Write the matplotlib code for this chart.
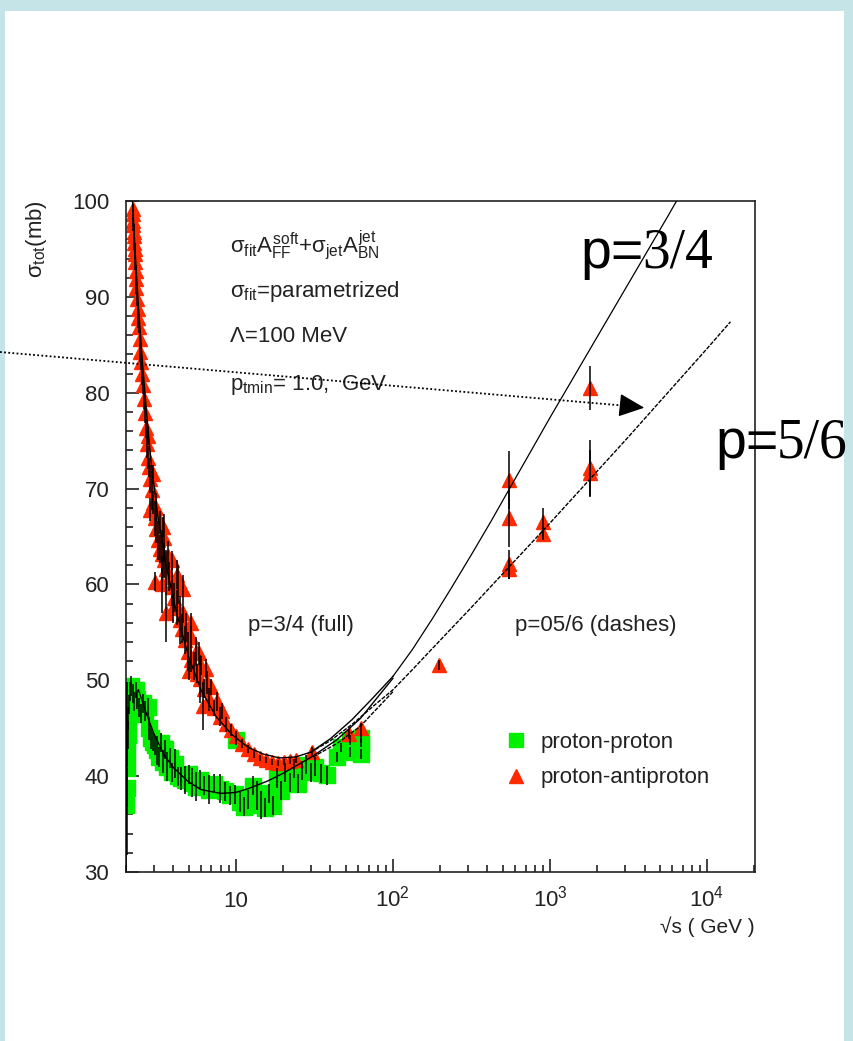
import matplotlib
matplotlib.use("Agg")
import matplotlib.pyplot as plt
from matplotlib.patches import Rectangle, FancyArrowPatch
from matplotlib.lines import Line2D
from matplotlib.ticker import FixedLocator, MultipleLocator, LogLocator, NullFormatter

plt.rcParams['font.family'] = ['Liberation Sans', 'DejaVu Sans']
plt.rcParams['mathtext.fontset'] = 'custom'
plt.rcParams['mathtext.rm'] = 'Liberation Sans'
plt.rcParams['mathtext.it'] = 'Liberation Sans'
plt.rcParams['mathtext.bf'] = 'Liberation Sans:bold'

# proton-antiproton data (sqrt(s) in GeV, sigma_tot in mb, error)
pbar_x = [2.20, 2.21, 2.22, 2.23, 2.24, 2.25, 2.26, 2.27, 2.28, 2.29, 2.30, 2.31,
          2.33, 2.35, 2.37, 2.39, 2.41, 2.44, 2.47, 2.50, 2.53, 2.56, 2.60, 2.63,
          2.67, 2.71, 2.75, 2.80, 2.86, 2.92, 2.98, 3.05, 3.12, 3.20, 3.28, 3.38,
          3.50, 3.62, 3.75, 3.90, 4.05, 4.20, 4.40, 4.55, 4.75, 4.95, 5.15, 5.40,
          5.65, 5.90, 6.30, 6.80, 7.30, 7.90, 8.60, 9.30, 10.0, 10.9, 11.9, 13.0,
          14.3, 15.6, 17.0, 18.5, 20.2, 22.0, 24.0,
          2.95, 3.10, 3.30, 3.50, 3.40, 3.70, 3.90, 4.00, 4.30, 4.60, 4.80, 5.20,
          5.00, 5.60, 6.00, 6.60, 7.00, 7.60, 8.20, 4.20, 3.60, 3.45, 2.75, 2.85, 6.20,
          3.05, 4.60, 5.20, 5.80, 6.50,
          30.4, 52.6, 62.7, 196, 546, 546, 546, 546, 900, 900, 1800, 1800, 1800]
pbar_y = [99.2, 98.6, 97.9, 97.5, 96.8, 96.3, 95.6, 95.0, 94.5, 93.6, 92.7, 91.9,
          90.9, 89.8, 88.7, 87.8, 86.9, 85.6, 84.2, 83.2, 82.0, 80.8, 79.3, 77.9,
          76.3, 74.7, 73.2, 72.2, 71.0, 69.8, 68.5, 66.9, 65.8, 64.6, 63.7, 63.2,
          62.5, 61.6, 60.8, 59.7, 58.6, 57.6, 56.3, 55.4, 54.2, 53.0, 52.1, 51.5,
          50.7, 50.1, 49.1, 48.0, 47.1, 46.2, 45.4, 44.8, 44.2, 43.4, 42.8, 42.3,
          41.9, 41.7, 41.5, 41.4, 41.5, 41.6, 41.7,
          71.5, 68.0, 66.5, 64.8, 60.0, 63.0, 62.5, 57.5, 60.0, 57.0, 55.5, 54.5,
          51.0, 53.0, 51.5, 49.8, 49.3, 47.8, 46.8, 61.0, 57.0, 66.0, 75.5, 67.8, 47.3,
          60.3, 59.5, 56.0, 52.8, 51.2,
          42.5, 44.4, 45.0, 51.6, 70.9, 66.9, 62.1, 61.6, 66.5, 65.3, 80.5, 72.1, 71.6]
pbar_err = [0.5, 0.6, 0.5, 0.6, 0.8, 0.5, 0.7, 0.6, 0.5, 0.8, 0.6, 0.7,
            0.6, 0.8, 0.6, 1.0, 0.7, 0.8, 1.0, 0.8, 1.2, 0.9, 1.0, 1.1,
            1.0, 1.5, 1.2, 1.0, 1.5, 2.0, 1.2, 1.8, 1.5, 2.0, 1.5, 2.5,
            1.8, 2.0, 1.5, 2.0, 1.5, 1.8, 2.5, 1.5, 1.5, 2.0, 1.2, 1.5,
            1.0, 2.5, 1.0, 1.2, 0.8, 1.0, 0.8, 0.6, 0.5, 0.5, 0.4, 0.4,
            0.3, 0.3, 0.3, 0.3, 0.3, 0.3, 0.3,
            1.0, 1.5, 1.2, 2.5, 3.0, 1.5, 1.0, 1.5, 2.0, 1.0, 1.5, 1.2,
            1.0, 1.5, 1.0, 1.2, 0.8, 1.0, 0.8, 1.5, 3.0, 1.0, 1.0, 1.2, 2.5,
            1.0, 1.5, 1.0, 1.2, 1.0,
            0.5, 0.5, 0.5, 0.5, 3.0, 3.0, 1.5, 1.0, 1.5, 0.7, 2.3, 3.0, 2.4]

# proton-proton data
pp_x = [2.01, 2.02, 2.03, 2.04, 2.05, 2.07, 2.09, 2.12, 2.16, 2.20, 2.25, 2.30,
        2.36, 2.42, 2.50, 2.58, 2.66, 2.75, 2.82, 2.90, 2.98, 3.05, 3.15, 3.25,
        3.35, 3.45, 3.55, 3.65, 3.80, 3.95, 4.10, 4.30, 4.50, 4.75, 5.00, 5.30,
        5.60, 5.90, 6.30, 6.80, 7.30, 7.90, 8.50, 9.20, 9.90, 10.6, 11.3, 12.0,
        12.8, 13.6, 14.4, 15.3, 16.2, 17.2, 18.3, 19.5, 20.7, 22.0, 23.5, 25.0,
        26.5, 28.0, 30.0, 32.0, 35.0, 38.0, 44.0, 47.0, 53.0, 53.0, 62.5, 62.5,
        62.5, 10.0]
pp_y = [37.0, 38.8, 40.8, 42.6, 44.3, 46.0, 47.5, 48.8, 49.4, 48.6, 47.8, 49.0,
        48.0, 47.2, 46.5, 47.6, 46.8, 47.2, 45.0, 44.0, 43.6, 43.2, 42.7, 42.0,
        43.5, 41.5, 42.8, 41.0, 41.9, 40.4, 41.3, 40.0, 39.8, 39.6, 40.2, 39.3,
        38.9, 39.6, 39.0, 38.6, 39.2, 38.7, 38.4, 38.0, 38.1, 37.3, 36.8, 37.6,
        39.0, 38.0, 37.0, 36.7, 38.2, 36.9, 39.8, 38.5, 40.4, 39.3, 40.8, 39.2,
        40.6, 41.2, 40.4, 41.0, 40.3, 40.1, 42.0, 43.0, 42.5, 43.8, 43.5, 42.3,
        44.0, 43.8]
pp_err = [11.0, 2.0, 9.0, 1.5, 1.5, 1.2, 1.0, 1.0, 1.0, 1.0, 1.0, 0.8,
          1.0, 1.0, 1.0, 1.0, 1.0, 1.0, 1.2, 1.2, 1.0, 1.0, 1.5, 1.0,
          1.0, 1.2, 1.0, 1.5, 1.0, 1.0, 1.5, 1.0, 1.2, 1.5, 1.0, 1.5,
          1.5, 1.0, 1.0, 1.5, 1.0, 1.5, 1.0, 1.0, 1.0, 1.0, 1.0, 1.0,
          1.0, 1.5, 1.5, 1.0, 1.0, 1.0, 1.0, 1.0, 1.0, 1.0, 1.0, 1.0,
          1.0, 1.0, 1.0, 1.0, 1.0, 1.0, 0.5, 0.5, 0.5, 0.5, 0.5, 0.5,
          0.5, 0.5]

# fitted curves
pbar_low_x = [2.2, 2.3, 2.4, 2.55, 2.7, 2.9, 3.2, 3.6, 4.2, 5.0, 6.0, 7.5, 9.5,
              12, 15, 19, 24, 30, 40, 55, 75, 100]
pbar_low_y = [100, 94, 89, 83, 78, 72.5, 67, 62, 57, 52.5, 49, 46.2, 44.3,
              43, 42.3, 41.9, 42.0, 42.5, 43.9, 45.9, 48.2, 50.4]
full_x = [100, 133, 178, 237, 316, 422, 562, 750, 1000, 1334, 1778, 2371, 3162,
          4217, 5623, 6500]
full_y = [50.4, 53.2, 56.4, 59.7, 63.1, 66.6, 70.2, 73.8, 77.4, 80.9, 84.4, 87.9,
          91.4, 94.9, 98.4, 100.2]
dash_x = [30, 40, 55, 75, 100, 133, 178, 316, 562, 1000, 1778, 3162, 5623, 10000, 14100]
dash_y = [42.5, 43.7, 45.4, 47.3, 49.0, 51.1, 53.3, 57.6, 62.0, 66.4, 70.9, 75.4,
          80.0, 84.6, 87.4]
pp_curve_x = [2.4, 2.7, 3.0, 3.5, 4.0, 5.0, 6.0, 8.0, 10, 12, 16, 20, 25, 31,
              44, 62, 100]
pp_curve_y = [49, 46.5, 44.5, 42.2, 40.9, 39.4, 38.6, 38.2, 38.3, 38.7, 39.5,
              40.3, 41.2, 42.1, 43.8, 46.0, 50.2]
pp_dash_x = [31, 44, 62, 100]
pp_dash_y = [42.0, 43.4, 45.2, 48.8]

xticks = [10, 100, 1000, 10000]
xticklabels = ['10', r'$10^{2}$', r'$10^{3}$', r'$10^{4}$']

W, H = 854, 1041
def fx(px):
    return px / W
def fy(py):
    return 1 - py / H

fig = plt.figure(figsize=(8.54, 10.41), dpi=100, facecolor='#c5e4e8')
fig.patches.append(Rectangle((fx(5), 0), fx(844) - fx(5), fy(11), transform=fig.transFigure,
                             facecolor='white', edgecolor='none', zorder=-10))

ax = fig.add_axes([fx(126), fy(872), fx(755) - fx(126), fy(201) - fy(872)])
ax.set_xscale('log')
ax.set_xlim(2.0, 2.02e4)
ax.set_ylim(30, 100)

red = '#ff2a00'
green = '#00f000'
ax.plot(pp_x, pp_y, ls='none', marker='s', ms=11, color=green, mec=green, zorder=2)
ax.plot(pbar_x, pbar_y, ls='none', marker='^', ms=10.5, color=red, mec=red, zorder=2)
ax.errorbar(pp_x, pp_y, yerr=pp_err, fmt='none', ecolor='k', elinewidth=1.1, capsize=0, zorder=3)
ax.errorbar(pbar_x, pbar_y, yerr=pbar_err, fmt='none', ecolor='k', elinewidth=1.1, capsize=0, zorder=3)

ax.plot(pbar_low_x, pbar_low_y, color='k', lw=1.0, zorder=4)
ax.plot(full_x, full_y, color='k', lw=0.9, zorder=4)
ax.plot(dash_x, dash_y, color='k', lw=1.0, ls=(0, (3, 1)), zorder=4)
ax.plot(pp_curve_x, pp_curve_y, color='k', lw=1.0, zorder=4)
ax.plot(pp_dash_x, pp_dash_y, color='k', lw=1.0, ls=(0, (3, 1)), zorder=4)

ax.xaxis.set_major_locator(FixedLocator(xticks))
ax.set_xticklabels(xticklabels)
ax.xaxis.set_minor_locator(LogLocator(base=10, subs=range(2, 10), numticks=20))
ax.xaxis.set_minor_formatter(NullFormatter())
ax.yaxis.set_major_locator(MultipleLocator(10))
ax.yaxis.set_minor_locator(MultipleLocator(2))
ax.tick_params(which='both', direction='in', top=False, right=False, colors='#222222',
               width=1.2)
ax.tick_params(which='major', length=9.5)
ax.tick_params(which='minor', length=5)
ax.tick_params(axis='y', pad=12, labelsize=16)
ax.tick_params(axis='x', pad=25, labelsize=16)
for t in ax.get_xticklabels():
    t.set_verticalalignment('baseline')
for s in ax.spines.values():
    s.set_linewidth(1.2)
    s.set_color('#222222')

tc = '#222222'
fig.text(fx(37), fy(200), r'$\sigma_{\rm tot}$(mb)', rotation=90, ha='center', va='top',
         fontsize=16, color=tc)
fig.text(fx(755), fy(927), '√s ( GeV )', ha='right', va='center', fontsize=15, color=tc)

fig.text(fx(230), fy(245), r'$\sigma_{\rm fit}A_{\rm FF}^{\rm soft}$+$\sigma_{\rm jet}A_{\rm BN}^{\rm jet}$',
         ha='left', va='center', fontsize=16, color=tc)
fig.text(fx(230), fy(291), r'$\sigma_{\rm fit}$=parametrized', ha='left', va='center',
         fontsize=16, color=tc)
fig.text(fx(230), fy(337), 'Λ=100 MeV', ha='left', va='center', fontsize=16, color=tc)
fig.text(fx(230), fy(385), r'p$_{\rm tmin}$= 1.0,  GeV', ha='left', va='center',
         fontsize=16, color=tc)
fig.text(fx(248), fy(626), 'p=3/4 (full)', ha='left', va='center', fontsize=16, color=tc)
fig.text(fx(515), fy(626), 'p=05/6 (dashes)', ha='left', va='center', fontsize=16, color=tc)

handles = [Line2D([], [], ls='none', marker='s', ms=9.5, color=green),
           Line2D([], [], ls='none', marker='^', ms=9.5, color=red)]
fig.legend(handles, ['proton-proton', 'proton-antiproton'], loc='upper left',
           bbox_to_anchor=(fx(485), fy(712)), frameon=False, fontsize=16,
           handletextpad=0.6, labelspacing=0.65, handlelength=1.0, labelcolor=tc)

# big overlay labels
fig.text(fx(644), fy(268), 'p=', ha='right', va='baseline', fontsize=40, color='k',
         family='Liberation Sans')
fig.text(fx(642), fy(268), '3/4', ha='left', va='baseline', fontsize=40, color='k',
         family='Liberation Serif')
fig.text(fx(779), fy(458), 'p=', ha='right', va='baseline', fontsize=40, color='k',
         family='Liberation Sans')
fig.text(fx(777), fy(458), '5/6', ha='left', va='baseline', fontsize=40, color='k',
         family='Liberation Serif')

# dotted arrow
fig.add_artist(Line2D([fx(0), fx(628)], [fy(352), fy(406)], transform=fig.transFigure,
                      color='k', lw=1.3, ls=(0, (1, 1.3)), zorder=6))
fig.add_artist(FancyArrowPatch(
    (fx(624), fy(405.6)), (fx(647), fy(408)), transform=fig.transFigure,
    arrowstyle='-|>,head_length=0.55,head_width=0.25', mutation_scale=29,
    color='k', lw=1.0, zorder=6))

fig.savefig('out.png', dpi=100, facecolor=fig.get_facecolor())
